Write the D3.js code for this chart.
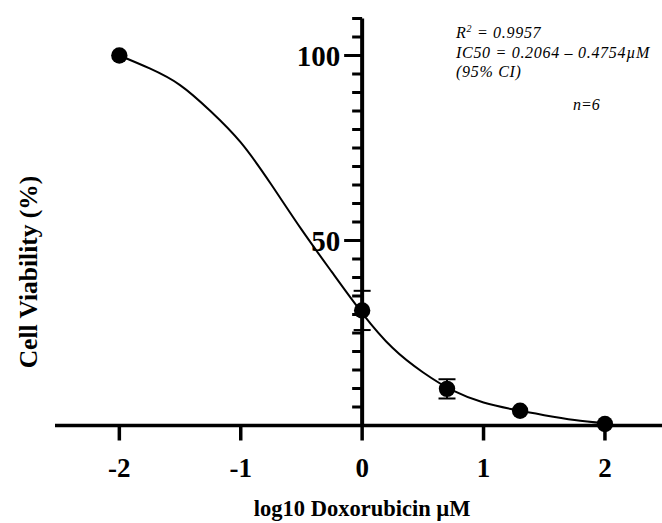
<!DOCTYPE html>
<html>
<head>
<meta charset="utf-8">
<script src="https://cdn.jsdelivr.net/npm/d3@7.9.0/dist/d3.min.js"></script>
<style>
  body { margin: 0; background: #fff; }
  svg { display: block; }
  text { font-family: "Liberation Serif", "DejaVu Serif", serif; }
</style>
</head>
<body>
<svg id="chart" width="662" height="523"></svg>
<script>
// measured points (mean, sem)
const logDose = [-2, 0, 0.699, 1.301, 2];
const viability = [100, 31.1, 9.9, 4.0, 0.4];
const sem = [0, 5.3, 2.6, 0, 0];

// fitted curve
const curveX = [-2, -1.75, -1.5, -1.25, -1.0, -0.75, -0.5, -0.25, 0, 0.25, 0.5, 0.75, 1.0, 1.25, 1.5, 1.75, 2.0];
const curveY = [100, 96.5, 92, 85, 76.5, 65.2, 53, 41.5, 30.4, 21, 14.4, 9.4, 6.2, 4.3, 2.8, 1.5, 0.6];

const xTicks = [-2, -1, 0, 1, 2];
const yMajor = [50, 100];
const yMinor = d3.range(5, 111, 5);

const notes = ["R² = 0.9957", "IC50 = 0.2064 – 0.4754µM", "(95% CI)"];

const svg = d3.select('#chart')

let x = d3.scaleLinear().domain([-2.53, 2.47]).range([55, 662]);
let y = d3.scaleLinear().domain([0, 110]).range([425.5, 18.5]);

// x axis
svg.append('line')
    .attr('x1', x(-2.53)).attr('x2', x(2.47))
    .attr('y1', y(0)).attr('y2', y(0))
    .attr('stroke', '#000').attr('stroke-width', 3.5);

xTicks.forEach((t) => {
    svg.append('line')
        .attr('x1', x(t)).attr('x2', x(t))
        .attr('y1', y(0)).attr('y2', y(0) + 15)
        .attr('stroke', '#000').attr('stroke-width', 3.5);
    svg.append('text')
        .attr('x', x(t)).attr('y', 477)
        .attr('text-anchor', 'middle')
        .attr('font-size', 27).attr('font-weight', 'bold')
        .text(t);
})

// y axis
svg.append('line')
    .attr('x1', x(0)).attr('x2', x(0))
    .attr('y1', y(110)).attr('y2', y(0))
    .attr('stroke', '#000').attr('stroke-width', 4);

yMinor.forEach((t) => {
    let len = yMajor.includes(t) ? 18 : 10;
    svg.append('line')
        .attr('x1', x(0) - len).attr('x2', x(0))
        .attr('y1', y(t)).attr('y2', y(t))
        .attr('stroke', '#000').attr('stroke-width', 3);
})

yMajor.forEach((t) => {
    svg.append('text')
        .attr('x', x(0) - 22).attr('y', y(t) + 10)
        .attr('text-anchor', 'end')
        .attr('font-size', 29).attr('font-weight', 'bold')
        .text(t);
})

// axis titles
svg.append('text')
    .attr('x', x(0)).attr('y', 516)
    .attr('text-anchor', 'middle')
    .attr('font-size', 22.5).attr('font-weight', 'bold')
    .text('log10 Doxorubicin µM');

svg.append('text')
    .attr('transform', 'translate(37,272) rotate(-90)')
    .attr('text-anchor', 'middle')
    .attr('font-size', 25.5).attr('font-weight', 'bold')
    .text('Cell Viability (%)');

// fitted curve
let line = d3.line()
    .x((d) => x(d[0]))
    .y((d) => y(d[1]))
    .curve(d3.curveNatural);

svg.append('path')
    .attr('d', line(curveX.map((v, i) => [v, curveY[i]])))
    .attr('fill', 'none')
    .attr('stroke', '#000')
    .attr('stroke-width', 2);

// error bars
logDose.forEach((d, i) => {
    if (!sem[i]) return;
    let cx = x(d);
    let top = y(viability[i] + sem[i]);
    let bot = y(viability[i] - sem[i]);
    svg.append('line')
        .attr('x1', cx).attr('x2', cx).attr('y1', top).attr('y2', bot)
        .attr('stroke', '#000').attr('stroke-width', 2);
    [top, bot].forEach((yy) => {
        svg.append('line')
            .attr('x1', cx - 8.5).attr('x2', cx + 8.5).attr('y1', yy).attr('y2', yy)
            .attr('stroke', '#000').attr('stroke-width', 2);
    })
})

// points
logDose.forEach((d, i) => {
    svg.append('circle')
        .attr('cx', x(d)).attr('cy', y(viability[i]))
        .attr('r', 8.2)
        .attr('fill', '#000');
})

// annotation
notes.forEach((n, i) => {
    let t = svg.append('text')
        .attr('x', 456).attr('y', 38 + i * 19.5)
        .attr('font-size', 16).attr('font-style', 'italic')
        .attr('letter-spacing', 0.7);
    if (i === 0) {
        t.append('tspan').text('R');
        t.append('tspan').attr('font-size', 10).attr('dy', -6).text('2');
        t.append('tspan').attr('dy', 6).text(' = 0.9957');
    } else {
        t.text(n);
    }
})

svg.append('text')
    .attr('x', 573).attr('y', 110)
    .attr('font-size', 16).attr('font-style', 'italic')
    .text('n=6');
</script>
</body>
</html>
